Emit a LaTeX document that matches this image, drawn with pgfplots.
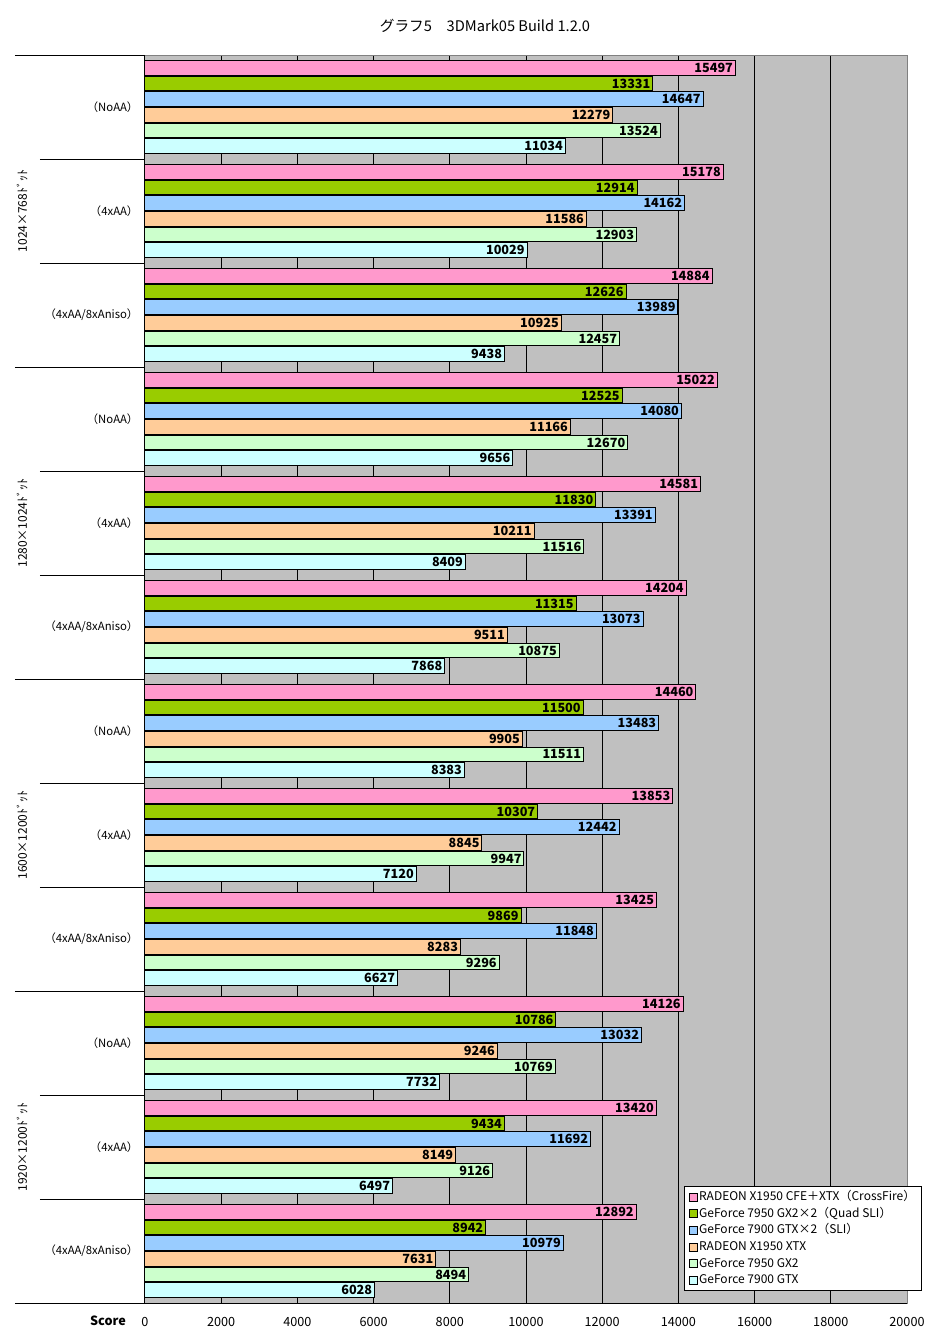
\documentclass[border=0pt]{standalone}
\usepackage{fontspec}
\setmainfont{Noto Sans CJK JP}
\usepackage{pgfplots}
\usepackage{pgfplotstable}
\pgfplotsset{compat=1.18}
\definecolor{cpink}{RGB}{255,153,204}
\definecolor{cgreen}{RGB}{153,204,0}
\definecolor{cblue}{RGB}{153,204,255}
\definecolor{corange}{RGB}{255,204,153}
\definecolor{clgreen}{RGB}{204,255,204}
\definecolor{ccyan}{RGB}{204,255,255}
\definecolor{bggray}{RGB}{192,192,192}
\definecolor{edgegray}{RGB}{128,128,128}

\pgfplotstableread{
g s1 s2 s3 s4 s5 s6
0 15497 13331 14647 12279 13524 11034
1 15178 12914 14162 11586 12903 10029
2 14884 12626 13989 10925 12457 9438
3 15022 12525 14080 11166 12670 9656
4 14581 11830 13391 10211 11516 8409
5 14204 11315 13073 9511 10875 7868
6 14460 11500 13483 9905 11511 8383
7 13853 10307 12442 8845 9947 7120
8 13425 9869 11848 8283 9296 6627
9 14126 10786 13032 9246 10769 7732
10 13420 9434 11692 8149 9126 6497
11 12892 8942 10979 7631 8494 6028
}\scores

\pgfplotsset{
  myleg/.style={legend image code/.code={\draw[##1,draw=black,line width=0.5pt] (0pt,-3pt) rectangle (6pt,3pt);}},
}

\begin{document}
\begin{tikzpicture}
\path[use as bounding box] (-108.75pt,-24.75pt) rectangle (588.75pt,977.25pt);
\begin{axis}[
  at={(0pt,0pt)}, anchor=south west,
  scale only axis, width=571.5pt, height=936pt,
  xmin=0, xmax=20000, ymin=-0.5, ymax=11.5, y dir=reverse,
  xbar, bar width=0.14,
  clip=false,
  axis background/.style={fill=bggray},
  axis line style={draw=edgegray, line width=0.75pt},
  xtick={0,2000,...,20000},
  scaled x ticks=false,
  xmajorgrids,
  grid style={black, line width=0.75pt},
  major tick length=0pt,
  ytick={0,...,11},
  yticklabels={（NoAA）,（4xAA）,（4xAA/8xAniso）,（NoAA）,（4xAA）,（4xAA/8xAniso）,（NoAA）,（4xAA）,（4xAA/8xAniso）,（NoAA）,（4xAA）,（4xAA/8xAniso）},
  yticklabel style={font=\fontsize{8.5}{10}\selectfont, xshift=-1.5pt},
  xticklabel style={font=\fontsize{9.5}{10}\selectfont, yshift=-7pt},
  /pgf/number format/1000 sep={},
  /pgf/number format/assume math mode=true,
  point meta=x,
  nodes near coords={\pgfmathprintnumber[fixed,precision=0,1000 sep={}]{\pgfplotspointmeta}},
  every node near coord/.append style={anchor=east, font=\fontsize{9.5}{10}\selectfont\bfseries, inner sep=1.5pt, black},
  legend style={at={(0.7073,0.09375)}, anchor=north west, draw=black, line width=0.75pt, fill=white,
    font=\fontsize{9}{11}\selectfont, inner xsep=3.5pt, inner ysep=1.5pt, row sep=0pt,
    nodes={inner sep=1pt, text height=8pt, text depth=2.5pt}},
  legend cell align=left,
]
\addplot[fill=cpink, draw=black, line width=0.75pt, bar shift=-0.375, myleg] table[x=s1,y=g]{\scores};
\addlegendentry{RADEON X1950 CFE＋XTX（CrossFire）}
\addplot[fill=cgreen, draw=black, line width=0.75pt, bar shift=-0.225, myleg] table[x=s2,y=g]{\scores};
\addlegendentry{GeForce 7950 GX2×2（Quad SLI）}
\addplot[fill=cblue, draw=black, line width=0.75pt, bar shift=-0.075, myleg] table[x=s3,y=g]{\scores};
\addlegendentry{GeForce 7900 GTX×2（SLI）}
\addplot[fill=corange, draw=black, line width=0.75pt, bar shift=0.075, myleg] table[x=s4,y=g]{\scores};
\addlegendentry{RADEON X1950 XTX}
\addplot[fill=clgreen, draw=black, line width=0.75pt, bar shift=0.225, myleg] table[x=s5,y=g]{\scores};
\addlegendentry{GeForce 7950 GX2}
\addplot[fill=ccyan, draw=black, line width=0.75pt, bar shift=0.375, myleg] table[x=s6,y=g]{\scores};
\addlegendentry{GeForce 7900 GTX}

\draw[black, line width=0.75pt] (axis cs:0,-0.5) -- (axis cs:0,11.5);
\draw[black, line width=0.75pt] ([xshift=-97.5pt]axis cs:0,11.5) -- (axis cs:20000,11.5);
\draw[black, line width=0.75pt] ([xshift=-97.5pt]axis cs:0,-0.5) -- (axis cs:0,-0.5);
\draw[black, line width=0.75pt] ([xshift=-97.5pt]axis cs:0,2.5) -- (axis cs:0,2.5);
\draw[black, line width=0.75pt] ([xshift=-97.5pt]axis cs:0,5.5) -- (axis cs:0,5.5);
\draw[black, line width=0.75pt] ([xshift=-97.5pt]axis cs:0,8.5) -- (axis cs:0,8.5);
\draw[black, line width=0.75pt] ([xshift=-78.75pt]axis cs:0,0.5) -- (axis cs:0,0.5);
\draw[black, line width=0.75pt] ([xshift=-78.75pt]axis cs:0,1.5) -- (axis cs:0,1.5);
\draw[black, line width=0.75pt] ([xshift=-78.75pt]axis cs:0,3.5) -- (axis cs:0,3.5);
\draw[black, line width=0.75pt] ([xshift=-78.75pt]axis cs:0,4.5) -- (axis cs:0,4.5);
\draw[black, line width=0.75pt] ([xshift=-78.75pt]axis cs:0,6.5) -- (axis cs:0,6.5);
\draw[black, line width=0.75pt] ([xshift=-78.75pt]axis cs:0,7.5) -- (axis cs:0,7.5);
\draw[black, line width=0.75pt] ([xshift=-78.75pt]axis cs:0,9.5) -- (axis cs:0,9.5);
\draw[black, line width=0.75pt] ([xshift=-78.75pt]axis cs:0,10.5) -- (axis cs:0,10.5);

\node[rotate=90, font=\fontsize{9}{10}\selectfont] at ([xshift=-92.25pt]axis cs:0,1) {1024×768ﾄﾞｯﾄ};
\node[rotate=90, font=\fontsize{9}{10}\selectfont] at ([xshift=-92.25pt]axis cs:0,4) {1280×1024ﾄﾞｯﾄ};
\node[rotate=90, font=\fontsize{9}{10}\selectfont] at ([xshift=-92.25pt]axis cs:0,7) {1600×1200ﾄﾞｯﾄ};
\node[rotate=90, font=\fontsize{9}{10}\selectfont] at ([xshift=-92.25pt]axis cs:0,10) {1920×1200ﾄﾞｯﾄ};
\end{axis}
\node[font=\fontsize{11}{12}\selectfont] at (255pt,957.75pt) {グラフ5　3DMark05 Build 1.2.0};
\node[font=\fontsize{9.5}{10}\selectfont\bfseries] at (-27.75pt,-13.5pt) {Score};
\end{tikzpicture}
\end{document}
